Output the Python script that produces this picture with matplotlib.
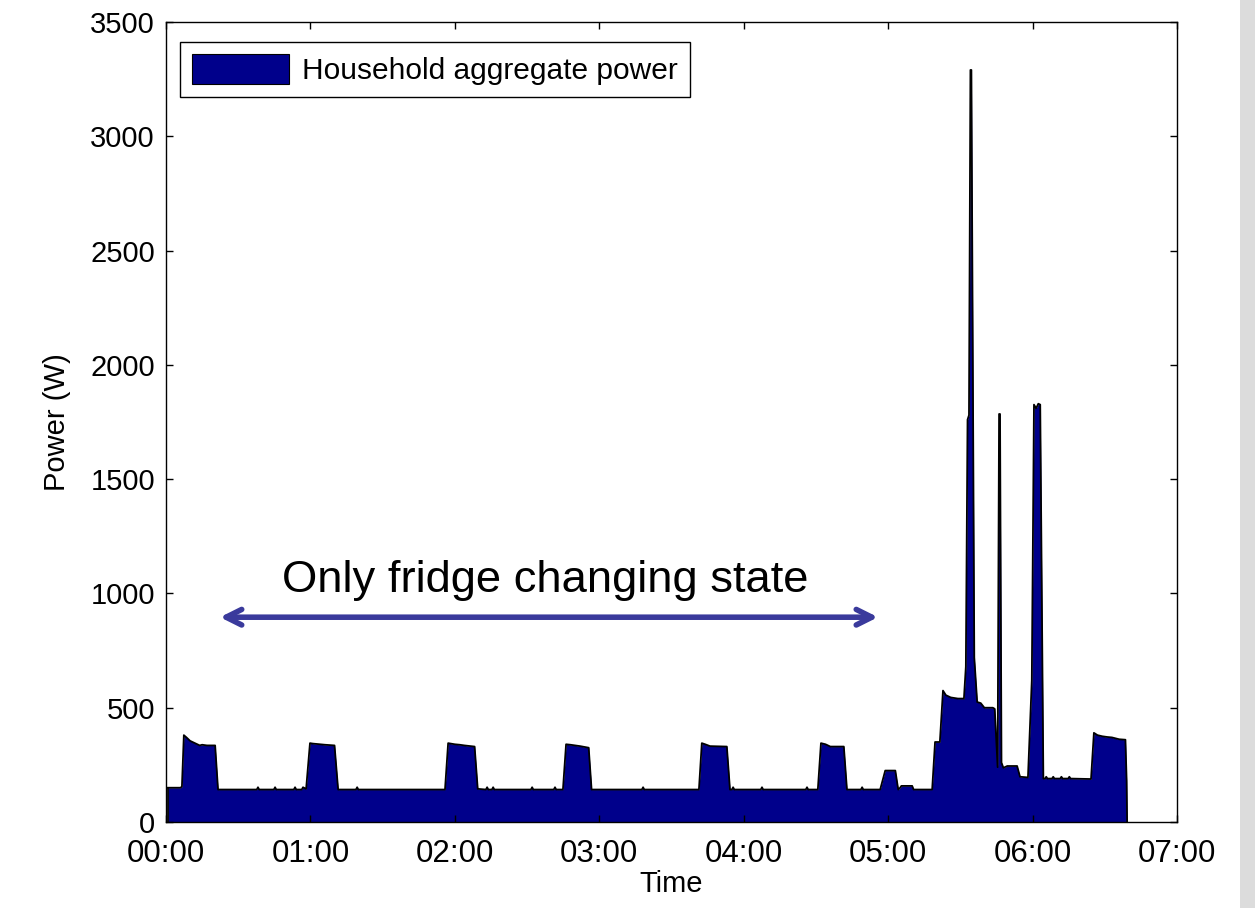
import matplotlib.pyplot as plt
from matplotlib.patches import Rectangle

plt.rcParams['font.family'] = ['Liberation Sans', 'DejaVu Sans']

# time in minutes after 00:00, power in W
minutes = [0.8, 6.0, 6.6, 7.4, 8.5, 10, 12, 13, 14, 15, 17, 20.4, 21.6,
           37.7, 38.2, 38.7, 44.8, 45.3, 45.8, 53.1, 53.6, 54.1, 56.4, 56.9,
           58.2, 59.8, 61, 64, 66, 70.0, 71.5,
           78.9, 79.4, 79.9,
           115.9, 117.2, 120, 122, 124, 128.2, 129.5,
           132.9, 133.4, 133.9, 135.4, 135.9, 136.4, 151.6, 152.1, 152.6,
           161.1, 161.6, 162.1,
           164.9, 166.2, 168, 170, 172, 175.6, 176.8,
           197.7, 198.2, 198.7,
           221.4, 222.6, 224, 226, 233.0, 234.3,
           235.1, 235.6, 236.1, 247.1, 247.6, 248.1, 265.8, 266.3, 266.8,
           270.8, 272.1, 274, 276, 281.6, 282.9,
           288.7, 289.2, 289.7,
           296.7, 298.8, 303.0, 304.2, 305.0, 305.5, 310.0, 310.6,
           318.3, 319.5, 321.5, 322.8, 324, 326, 329, 331.5, 332.3, 333.0,
           333.6, 334.2, 334.6, 335.8, 337, 338.5, 340, 343.5, 344.3, 345.5,
           346.1, 346.5, 347.1, 347.9, 349.5, 353.6, 354.8, 358.1, 359.7,
           360.6, 361.5, 362.4, 363.2, 364.5,
           365.2, 365.7, 366.2, 368.1, 368.6, 369.1, 371.5, 372.0, 372.5,
           374.8, 375.3, 375.8, 384.3,
           385.5, 387, 389, 391, 393, 396, 398.6, 399.1, 399.3]
power = [150, 150, 155, 380, 370, 355, 345, 340, 335, 338, 335, 335, 142,
         142, 152, 142, 142, 152, 142, 142, 152, 142, 142, 152,
         145, 345, 343, 340, 338, 335, 142,
         142, 152, 142,
         142, 345, 340, 338, 335, 330, 145,
         142, 152, 142, 142, 152, 142, 142, 152, 142,
         142, 152, 142,
         142, 340, 338, 335, 332, 325, 142,
         142, 152, 142,
         142, 345, 340, 332, 330, 142,
         142, 152, 142, 142, 152, 142, 142, 152, 142,
         142, 345, 340, 330, 330, 142,
         142, 152, 142,
         142, 225, 225, 142, 150, 158, 158, 142,
         142, 350, 350, 575, 555, 545, 540, 540, 680, 1760,
         1780, 3290, 3290, 720, 525, 520, 500, 500, 495, 240,
         1785, 1785, 260, 237, 245, 245, 198, 195, 620,
         1826, 1810, 1830, 1826, 190,
         190, 198, 190, 190, 198, 190, 190, 198, 190,
         190, 198, 190, 188,
         390, 380, 375, 372, 370, 362, 360, 180, 0]

hour_ticks = [0, 60, 120, 180, 240, 300, 360, 420]
hour_labels = ["00:00", "01:00", "02:00", "03:00", "04:00", "05:00", "06:00", "07:00"]
power_ticks = [0, 500, 1000, 1500, 2000, 2500, 3000, 3500]

fig = plt.figure(figsize=(12.55, 9.08), dpi=100)
fig.patches.append(Rectangle((1240 / 1255, 0), 15 / 1255, 1, transform=fig.transFigure,
                             facecolor='#dcdcdc', edgecolor='none', zorder=-1))
ax = fig.add_axes([0.1323, 0.0947, 0.8055, 0.8811])

ax.fill_between(minutes, 0, power, color='#00008b', linewidth=0,
                label='Household aggregate power')
ax.plot(minutes, power, color='black', linewidth=1.3)
ax.plot([minutes[0], minutes[0]], [0, power[0]], color='black', linewidth=1.3)

ax.set_xlim(0, 420)
ax.set_ylim(0, 3500)
ax.set_xticks(hour_ticks)
ax.set_xticklabels(hour_labels)
ax.set_yticks(power_ticks)
ax.tick_params(direction='in', length=5, width=1, top=True, right=True,
               labelsize=21, pad=8)
ax.tick_params(axis='x', labelsize=22.5, pad=12)
for s in ax.spines.values():
    s.set_linewidth(1)

ax.set_xlabel("Time", fontsize=21, labelpad=1)
ax.set_ylabel("Power (W)", fontsize=21, labelpad=14)

leg = ax.legend(loc='upper left', bbox_to_anchor=(0.0138, 0.975), borderaxespad=0,
                fontsize=21.5, fancybox=False, edgecolor='black',
                framealpha=1, handlelength=3.25, handleheight=1.15,
                borderpad=0.4, handletextpad=0.45)
leg.get_frame().set_linewidth(1)
leg.legend_handles[0].set_edgecolor('black')
leg.legend_handles[0].set_linewidth(0.8)

ax.annotate("", xy=(22.4, 896), xytext=(295.8, 896),
            arrowprops=dict(arrowstyle='<->', color='#3a3a9c', lw=4,
                            mutation_scale=28, shrinkA=0, shrinkB=0))
ax.text(157.5, 1055, "Only fridge changing state", fontsize=32.7,
        ha='center', va='center', color='black')

plt.savefig("out.png", dpi=100)
